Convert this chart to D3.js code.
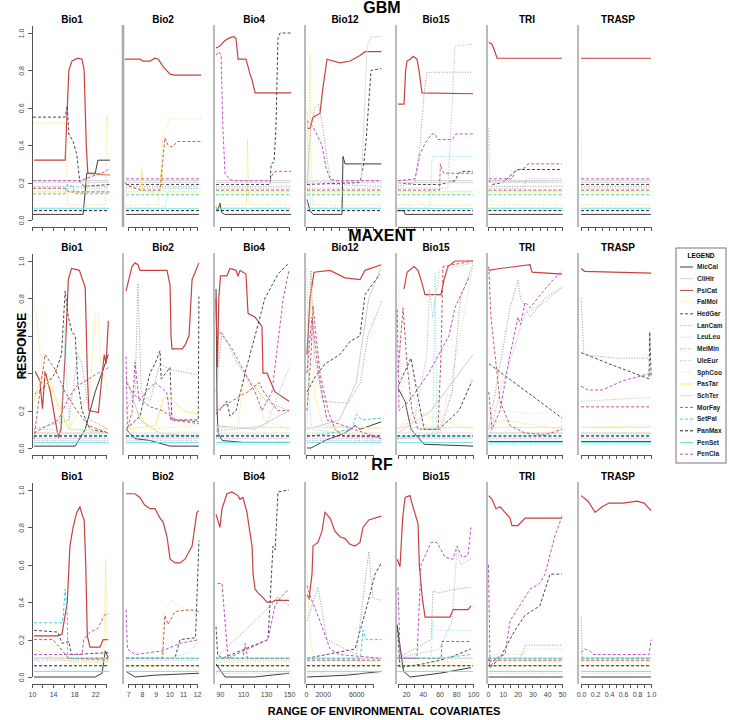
<!DOCTYPE html>
<meta charset="utf-8">
<style>

body {
  margin: 0;
  background: #fff;
}

text {
  font-family: "Liberation Sans", Arial, sans-serif;
}

.line {
  fill: none;
}

.axis path, .axis line {
  stroke: #555;
  shape-rendering: crispEdges;
}

.axis text {
  font-size: 7px;
  fill: #444;
}

</style>
<body>
<script src="https://cdn.jsdelivr.net/npm/d3@7"></script>
<script>

var species = ["MicCal", "CliHir", "PsiCat", "FalMol", "HedGar", "LanCam", "LeuLeu", "MelMin", "UleEur",
               "SphCoo", "PasTar", "SchTer", "MorFay", "SetPal", "PanMax", "PenSet", "PenCla"];
var speciesColor = ["#3c3c3c", "#cfcfcf", "#c8413f", "#f5de5a", "#4a4a4a", "#d98ee0", "#7ee8ec", "#9a9a9a", "#b4b4c4",
                    "#dcdcb4", "#fbec78", "#dedede", "#c25c5c", "#3fcfd2", "#1e1e1e", "#74e2e2", "#c050c4"];
var speciesDash = ["solid", "solid", "solid", "dotted", "dashed", "dotted", "dotted", "dotted", "dotted",
                   "dotted", "solid", "solid", "dashed", "dashed", "dashed", "solid", "dashed"];

var models = ["GBM", "MAXENT", "RF"];
var covariates = ["Bio1", "Bio2", "Bio4", "Bio12", "Bio15", "TRI", "TRASP"];
var covDomain = [[10.2, 24.8], [6.7, 12.3], [85.7, 152.6], [0, 9200], [9.2, 101.2], [0, 52], [-0.03, 1.07]];
var covExtent = [[10.4, 24.6], [6.85, 12.15], [86.6, 151], [120, 9000], [9.5, 100], [0.3, 50.5], [0, 1]];

var xTicks = [
  [10, 12, 14, 16, 18, 20, 22, 24],
  [7, 7.5, 8, 8.5, 9, 9.5, 10, 10.5, 11, 11.5, 12],
  [90, 100, 110, 120, 130, 140, 150],
  [0, 1000, 2000, 3000, 4000, 5000, 6000, 7000, 8000],
  [10, 20, 30, 40, 50, 60, 70, 80, 90, 100],
  [0, 5, 10, 15, 20, 25, 30, 35, 40, 45, 50],
  [0, 0.1, 0.2, 0.3, 0.4, 0.5, 0.6, 0.7, 0.8, 0.9, 1]
];
var xLabels = [
  [10, 14, 18, 22],
  [7, 8, 9, 10, 11, 12],
  [90, 110, 130, 150],
  [0, 2000, 6000],
  [20, 40, 60, 80, 100],
  [0, 10, 20, 30, 40, 50],
  [0, 0.2, 0.4, 0.6, 0.8, 1]
];
var yTicks = [0, 0.2, 0.4, 0.6, 0.8, 1];

// flat response of each species when the covariate has no effect
var gbmBase = [0.03, 0.21, 0.865, 0.08, 0.19, 0.2, 0.065, 0.18, 0.17, 0.155, 0.15, 0.2, 0.16, 0.135, 0.05, 0.06, 0.22];
var maxentBase = [0.035, 0.08, 0.94, 0.1, 0.065, 0.05, 0.02, 0.045, 0.04, 0.07, 0.11, 0.08, 0.055, 0.06, 0.065, 0.03, 0.025];
var rfBase = [0.0, 0.1, 0.9, 0.08, 0.1, 0.1, 0.02, 0.1, 0.09, 0.1, 0.06, 0.1, 0.09, 0.1, 0.06, 0.03, 0.13];

// GBM curves
var gbmBio1 = {
  MicCal: [[10.2,0.03],[19.7,0.03],[20.4,0.25],[22.0,0.25],[22.5,0.32],[24.8,0.32]],
  PsiCat: [[10.4,0.32],[16.3,0.32],[16.7,0.6],[17.0,0.8],[17.6,0.85],[18.7,0.865],[19.5,0.86],[19.9,0.8],[20.3,0.4],[20.6,0.25],[24.8,0.24]],
  FalMol: [[10.2,0.52],[16.3,0.52],[16.8,0.08],[23.9,0.08],[24.2,0.56],[24.5,0.5]],
  HedGar: [[10.2,0.55],[16.3,0.55],[16.7,0.61],[17.0,0.46],[17.8,0.42],[18.5,0.35],[19.1,0.2],[20.0,0.18],[24.8,0.19]],
  PasTar: [[10.2,0.15],[20.4,0.15],[21.0,0.24],[24.8,0.24]],
  MorFay: [[10.2,0.17],[16.3,0.17],[17.0,0.15],[24.8,0.15]],
  SetPal: [[10.2,0.14],[16.3,0.14],[16.7,0.19],[17.6,0.18],[18.2,0.14],[24.8,0.14]],
  PenCla: [[10.2,0.21],[19.1,0.21],[20.1,0.22],[24.0,0.26],[24.8,0.28]]
};
var gbmBio2 = {
  PsiCat: [[6.75,0.86],[7.86,0.86],[8.08,0.85],[8.59,0.85],[8.95,0.865],[9.2,0.86],[9.54,0.82],[10.05,0.78],[10.4,0.775],[12.3,0.775]],
  FalMol: [[6.75,0.08],[9.17,0.08],[9.32,0.2],[9.54,0.45],[10.05,0.54],[12.3,0.54]],
  LeuLeu: [[6.75,0.065],[9.68,0.065],[9.9,0.15],[10.05,0.17],[12.3,0.17]],
  PasTar: [[6.75,0.15],[7.9,0.15],[8.0,0.27],[8.1,0.15],[9.3,0.15],[9.45,0.27],[9.6,0.15],[12.3,0.15]],
  MorFay: [[6.75,0.2],[7.14,0.18],[7.86,0.16],[9.32,0.16],[9.68,0.44],[9.9,0.4],[10.19,0.39],[10.6,0.42],[12.3,0.42]]
};
var gbmBio4 = {
  MicCal: [[86.6,0.07],[88,0.05],[90,0.09],[91.5,0.04],[94,0.03],[152,0.03]],
  PsiCat: [[86.6,0.92],[90,0.93],[94.4,0.96],[98.7,0.975],[102.2,0.98],[104,0.97],[105.7,0.86],[112.6,0.86],[114.4,0.82],[116.1,0.78],[117.9,0.75],[120.5,0.68],[152,0.68]],
  FalMol: [[86.6,0.08],[113,0.08],[114,0.43],[115.2,0.08],[152,0.08]],
  HedGar: [[86.6,0.19],[133.5,0.19],[134.5,0.3],[137,0.31],[138.7,0.5],[140.4,0.97],[142.2,1.0],[152,1.0]],
  PenCla: [[86.6,0.88],[89,0.9],[91,0.88],[92.5,0.5],[94.4,0.25],[98.7,0.215],[103,0.21],[133.5,0.21],[136,0.25],[138.7,0.26],[152,0.26]]
};
var gbmBio12 = {
  MicCal: [[120,0.11],[480,0.05],[840,0.03],[4300,0.03],[4420,0.34],[4660,0.3],[9000,0.3]],
  PsiCat: [[120,0.49],[480,0.49],[840,0.55],[1670,0.57],[2000,0.7],[2510,0.86],[4060,0.84],[5260,0.85],[6450,0.88],[7050,0.9],[9000,0.9]],
  FalMol: [[120,0.08],[300,0.3],[480,0.89],[600,0.3],[840,0.08],[9000,0.08]],
  HedGar: [[120,0.19],[6450,0.2],[6900,0.3],[7170,0.42],[7770,0.8],[9000,0.81]],
  LeuLeu: [[120,0.59],[300,0.3],[600,0.065],[9000,0.065]],
  MelMin: [[120,0.2],[600,0.5],[1080,0.6],[1500,0.62],[2000,0.5],[2600,0.3],[3100,0.19],[9000,0.18]],
  SchTer: [[120,0.21],[6600,0.21],[6900,0.5],[7300,0.93],[7800,0.98],[9000,0.98]],
  PenCla: [[120,0.53],[840,0.5],[1910,0.4],[2390,0.28],[2870,0.22],[3500,0.21],[9000,0.21]]
};
var gbmBio15 = {
  MicCal: [[10.4,0.05],[17.6,0.05],[19,0.03],[100,0.03]],
  PsiCat: [[10.4,0.62],[17.6,0.62],[19.5,0.8],[21.2,0.85],[25,0.86],[28.3,0.875],[33.1,0.86],[35.5,0.8],[39.1,0.68],[100,0.675]],
  HedGar: [[10.4,0.2],[30,0.19],[60.6,0.19],[70,0.2],[78.5,0.21],[83,0.25],[86.9,0.26],[100,0.26]],
  LeuLeu: [[10.4,0.065],[48,0.065],[50,0.2],[51,0.34],[100,0.34]],
  MelMin: [[10.4,0.18],[30.7,0.2],[36.7,0.4],[42,0.7],[45.1,0.79],[100,0.79]],
  UleEur: [[10.4,0.17],[70,0.17],[73.7,0.5],[78.5,0.93],[100,0.94]],
  MorFay: [[10.4,0.16],[60,0.16],[61,0.3],[63,0.27],[65.4,0.25],[100,0.25]],
  PenCla: [[10.4,0.21],[30.7,0.22],[36.7,0.35],[42.7,0.41],[51,0.46],[54.6,0.46],[58,0.43],[74.9,0.43],[79.7,0.46],[100,0.46]]
};
var gbmTri = {
  PsiCat: [[0.5,0.95],[2.7,0.94],[4.7,0.9],[6.1,0.865],[50,0.865]],
  HedGar: [[0.5,0.21],[3,0.19],[10,0.2],[11.5,0.21],[18.2,0.26],[20,0.27],[50,0.27]],
  LanCam: [[0.4,0.49],[0.9,0.3],[1.5,0.21],[50,0.2]],
  UleEur: [[0.5,0.17],[24,0.17],[26,0.22],[50,0.22]],
  PenCla: [[0.5,0.22],[16.2,0.22],[18.2,0.26],[25,0.28],[27,0.3],[50,0.3]]
};
var gbmTrasp = {
  SphCoo: [[0,0.48],[0.015,0.16],[1,0.155]]
};

// MAXENT curves
var maxentBio1 = {
  MicCal: [[10.4,0.01],[18.2,0.01],[20.1,0.1],[22,0.3],[24.5,0.5]],
  PsiCat: [[10.6,0.41],[11.5,0.36],[12.0,0.21],[12.5,0.41],[13.5,0.3],[14.4,0.15],[15.0,0.06],[15.5,0.1],[16.3,0.5],[16.9,0.9],[17.5,0.96],[19.0,0.95],[19.6,0.9],[20.1,0.86],[20.5,0.4],[20.8,0.2],[22.6,0.19],[23.7,0.5],[24.05,0.45],[24.5,0.68]],
  FalMol: [[10.4,0.8],[11.2,0.6],[12,0.42],[13.4,0.38],[15,0.2],[17,0.1],[21,0.3],[22,0.72],[22.5,0.72],[23,0.45],[24.5,0.3]],
  HedGar: [[10.6,0.29],[12.5,0.33],[14.4,0.4],[15.6,0.5],[16.3,0.84],[16.9,0.7],[17.6,0.62],[18.2,0.6],[18.7,0.35],[19.5,0.2],[21,0.1],[24.5,0.08]],
  LeuLeu: [[10.4,0.1],[15.3,0.1],[15.9,0.3],[16.3,0.65],[16.7,0.3],[17.2,0.1],[24.5,0.08]],
  MelMin: [[10.4,0.1],[17,0.15],[18.7,0.5],[19.5,0.45],[21,0.15],[24.5,0.1]],
  PasTar: [[10.4,0.25],[12,0.4],[14,0.3],[17,0.1],[24.5,0.1]],
  MorFay: [[10.4,0.05],[11.5,0.3],[12.5,0.5],[14.4,0.42],[16.3,0.3],[18.5,0.2],[20.7,0.12],[22.6,0.1],[24.5,0.08]],
  PenCla: [[10.4,0.08],[15,0.15],[17,0.27],[18.5,0.33],[22.5,0.4],[24.5,0.43]]
};
var maxentBio2 = {
  MicCal: [[6.85,0.1],[7.5,0.05],[8.6,0.04],[10.05,0.01],[12.15,0.01]],
  CliHir: [[6.85,0.38],[7.86,0.15],[9.3,0.08],[12.15,0.06]],
  PsiCat: [[6.85,0.84],[7.28,0.97],[7.5,0.99],[7.72,0.98],[7.86,0.95],[9.83,0.95],[10.05,0.87],[10.12,0.6],[10.19,0.53],[10.92,0.53],[11.14,0.55],[11.43,0.6],[11.65,0.9],[12.15,0.99]],
  FalMol: [[6.85,0.15],[7.7,0.2],[8.5,0.1],[12.15,0.12]],
  HedGar: [[6.85,0.1],[7.86,0.17],[8.59,0.4],[8.95,0.45],[9.32,0.52],[9.4,0.37],[10.05,0.43],[10.19,0.15],[12.1,0.15],[12.15,0.81]],
  LeuLeu: [[6.85,0.06],[11.5,0.06],[12.15,0.1]],
  MelMin: [[6.85,0.2],[7.5,0.3],[7.72,0.88],[7.95,0.3],[8.6,0.25],[9.3,0.45],[10.05,0.42],[12.15,0.39]],
  PasTar: [[6.85,0.1],[9,0.12],[9.6,0.27],[10.2,0.26],[11,0.2],[12.15,0.18]],
  MorFay: [[6.85,0.35],[7.5,0.28],[8.6,0.22],[9.5,0.2],[10.5,0.15],[12.15,0.14]],
  PenCla: [[6.85,0.49],[6.95,0.1],[7.3,0.2],[7.5,0.46],[7.8,0.25],[8.3,0.3],[8.95,0.35],[9.8,0.3],[10.1,0.15],[12.15,0.13]]
};
var maxentBio4 = {
  MicCal: [[86.6,0.85],[87.5,0.2],[88.5,0.08],[92,0.04],[110,0.03],[150,0.03]],
  CliHir: [[86.6,0.12],[120,0.1],[150,0.2]],
  PsiCat: [[86.6,0.8],[87.8,0.43],[89,0.8],[90.5,0.92],[96,0.92],[98.7,0.96],[104,0.95],[105.7,0.92],[107.5,0.95],[112.6,0.93],[114.4,0.72],[120.5,0.7],[126.5,0.65],[127.4,0.4],[130.9,0.4],[137.8,0.3],[150,0.25]],
  FalMol: [[86.6,0.1],[105,0.1],[112,0.42],[116,0.3],[123,0.35],[128,0.15],[150,0.1]],
  HedGar: [[86.6,0.18],[96.1,0.25],[98.7,0.17],[104,0.2],[111.8,0.4],[120.5,0.6],[129,0.8],[140.4,0.93],[150,0.99]],
  MelMin: [[86.6,0.3],[91.8,0.62],[105,0.45],[130,0.25],[150,0.2]],
  UleEur: [[86.6,0.09],[130,0.12],[150,0.43]],
  MorFay: [[86.6,0.2],[100,0.25],[114,0.3],[124,0.35],[128,0.3],[140,0.2],[150,0.2]],
  PenCla: [[86.6,0.6],[90,0.62],[98.7,0.55],[111.8,0.4],[120.5,0.3],[126.5,0.2],[135.2,0.3],[145,0.8],[150,0.95]]
};
var maxentBio12 = {
  MicCal: [[120,0.0],[600,0.0],[2270,0.04],[4660,0.08],[5860,0.12],[6450,0.1],[9000,0.14]],
  CliHir: [[120,0.1],[4000,0.15],[6000,0.35],[7500,0.8],[9000,0.97]],
  PsiCat: [[120,0.5],[480,0.8],[960,0.94],[2870,0.95],[4660,0.91],[6450,0.9],[7050,0.95],[9000,0.98]],
  FalMol: [[120,0.1],[600,0.88],[1000,0.3],[2000,0.12],[9000,0.1]],
  HedGar: [[120,0.3],[1080,0.38],[2270,0.45],[4060,0.5],[5260,0.57],[6450,0.6],[7050,0.82],[8840,0.93]],
  LeuLeu: [[120,0.96],[300,0.3],[700,0.1],[9000,0.05]],
  MelMin: [[120,0.4],[600,0.95],[1000,0.5],[2000,0.25],[5000,0.24],[6500,0.35],[7400,0.6],[9000,0.78]],
  MorFay: [[120,0.2],[600,0.5],[840,0.76],[1200,0.6],[1670,0.4],[2630,0.2],[3460,0.1],[4500,0.06],[9000,0.06]],
  SetPal: [[120,0.06],[5500,0.1],[6000,0.18],[6700,0.15],[9000,0.16]],
  PenCla: [[120,0.4],[700,0.7],[1500,0.4],[2500,0.15],[9000,0.05]]
};
var maxentBio15 = {
  MicCal: [[10.4,0.32],[18.8,0.25],[26.0,0.1],[41.5,0.02],[100,0.01]],
  CliHir: [[10.4,0.08],[50,0.2],[100,0.5]],
  PsiCat: [[17.6,0.85],[21.2,0.94],[29.5,0.97],[34.3,0.95],[37.9,0.9],[42.7,0.82],[61.8,0.82],[65.4,0.9],[70.1,0.97],[78.5,1.0],[100,1.0]],
  FalMol: [[10.4,0.1],[30,0.2],[60,0.15],[100,0.1]],
  HedGar: [[11.6,0.34],[25.9,0.48],[33.1,0.3],[41.5,0.1],[59.4,0.1],[83.3,0.2],[99,0.36]],
  LeuLeu: [[10.4,0.06],[52,0.06],[54.6,0.94],[57,0.06],[100,0.06]],
  MelMin: [[10.4,0.05],[60,0.08],[75,0.3],[85,0.8],[100,0.98]],
  UleEur: [[10.4,0.1],[30,0.15],[45,0.5],[48,0.85],[52,0.7],[60,0.95],[100,0.99]],
  SphCoo: [[10.4,0.9],[15,0.3],[25,0.15],[60,0.1],[80,0.5],[100,0.97]],
  MorFay: [[10.4,0.4],[16.4,0.75],[21.2,0.45],[27.1,0.2],[34.3,0.1],[58.2,0.1],[61.8,0.5],[64.2,0.97],[100,1.0]],
  PenCla: [[9.5,0.74],[11.6,0.2],[23.6,0.25],[47,0.4],[71.3,0.6],[78.5,0.75],[96,0.92]]
};
var maxentTri = {
  PsiCat: [[0.5,0.95],[8.1,0.96],[28.4,0.98],[29.7,0.94],[50,0.93]],
  FalMol: [[0.5,0.12],[10,0.15],[50,0.1]],
  HedGar: [[0.7,0.45],[50,0.16]],
  MelMin: [[0.5,0.1],[5,0.3],[14.9,0.75],[20.3,0.9],[22,0.8],[28.4,0.7],[38.5,0.8],[50,0.86]],
  UleEur: [[0.5,0.05],[8.1,0.3],[20.3,0.6],[25,0.72],[38.5,0.78],[50,0.86]],
  SphCoo: [[0.5,0.2],[10,0.2],[30,0.18],[50,0.2]],
  MorFay: [[0.5,0.97],[2,0.7],[4.7,0.5],[8.1,0.25],[14.9,0.12],[25,0.08],[38.5,0.07],[50,0.1]],
  PenCla: [[0.5,0.3],[2.7,0.1],[8.1,0.2],[14.9,0.5],[20.3,0.7],[22,0.66],[25,0.78],[28.4,0.75],[38.5,0.85],[50,0.95]]
};
var maxentTrasp = {
  PsiCat: [[0,0.96],[0.05,0.945],[1,0.935]],
  FalMol: [[0,0.11],[1,0.12]],
  HedGar: [[0,0.51],[0.4,0.45],[0.97,0.37],[0.98,0.62],[1,0.38]],
  MelMin: [[0,0.8],[0.04,0.5],[0.5,0.48],[1,0.48]],
  UleEur: [[0,0.25],[1,0.27]],
  MorFay: [[0,0.22],[1,0.22]],
  PenCla: [[0,0.33],[0.1,0.31],[0.3,0.31],[0.6,0.36],[1,0.4]]
};

// RF curves
var rfBio1 = {
  MicCal: [[10.4,0.0],[22,0.0],[23.3,0.02],[23.9,0.14],[24.5,0.1]],
  PsiCat: [[10.4,0.22],[14.9,0.22],[15.7,0.23],[16.7,0.4],[17.2,0.7],[17.8,0.8],[18.5,0.88],[19.1,0.91],[19.6,0.86],[19.9,0.84],[20.2,0.6],[20.5,0.22],[21.0,0.16],[22.9,0.16],[23.5,0.2],[24.5,0.2]],
  FalMol: [[10.4,0.1],[23.6,0.1],[24.0,0.63],[24.2,0.2],[24.5,0.2]],
  HedGar: [[10.4,0.25],[14.9,0.24],[15.7,0.18],[17,0.19],[17.5,0.12],[24.5,0.13]],
  LeuLeu: [[10.4,0.1],[13,0.05],[15,0.03],[24.5,0.03]],
  PasTar: [[10.4,0.15],[14,0.1],[18,0.08],[24.5,0.08]],
  MorFay: [[10.4,0.2],[14,0.2],[15.5,0.15],[17,0.1],[24.5,0.1]],
  SetPal: [[10.4,0.29],[15.7,0.29],[15.9,0.32],[16.3,0.47],[16.7,0.35],[16.8,0.1],[24.5,0.09]],
  PenCla: [[10.4,0.12],[19.5,0.12],[19.8,0.2],[21,0.24],[22.5,0.26],[23.7,0.33],[24.5,0.34]]
};
var rfBio2 = {
  MicCal: [[6.85,0.03],[7.5,0.0],[9,0.01],[12.15,0.02]],
  PsiCat: [[6.85,0.98],[7.5,0.98],[7.86,0.96],[8.2,0.92],[8.59,0.9],[8.95,0.9],[9.32,0.85],[9.54,0.83],[9.83,0.75],[10.05,0.63],[10.41,0.61],[10.77,0.61],[11.14,0.63],[11.65,0.7],[12.0,0.88],[12.15,0.89]],
  FalMol: [[6.85,0.05],[9.4,0.06],[9.6,0.35],[10.19,0.41],[11.1,0.36],[12.15,0.34]],
  HedGar: [[6.85,0.1],[10.4,0.1],[10.77,0.2],[11.9,0.21],[12.15,0.73]],
  LeuLeu: [[6.85,0.1],[10,0.1],[11.5,0.13],[12.15,0.2]],
  MorFay: [[6.85,0.1],[9.5,0.1],[9.68,0.33],[9.9,0.28],[10.41,0.35],[11.5,0.36],[12.15,0.35]],
  PenCla: [[6.85,0.36],[6.95,0.15],[7.5,0.12],[9.5,0.14],[10.77,0.18],[12.15,0.2]]
};
var rfBio4 = {
  MicCal: [[86.6,0.07],[94.4,0.0],[120,0.0],[150,0.02]],
  PsiCat: [[86.6,0.87],[90,0.8],[91.8,0.9],[96.1,0.98],[100.4,0.99],[105.7,0.97],[107.4,0.95],[110,0.96],[113.5,0.88],[114.4,0.84],[117.9,0.7],[118.8,0.55],[120.5,0.47],[123.1,0.45],[126.5,0.43],[130.9,0.4],[135.2,0.4],[137.8,0.41],[150,0.41]],
  HedGar: [[86.6,0.27],[88,0.12],[92,0.1],[131.8,0.2],[136.1,0.7],[138,0.68],[140.4,0.99],[150,1.0]],
  MelMin: [[86.6,0.1],[137,0.4],[140,0.43],[150,0.38]],
  MorFay: [[86.6,0.1],[110,0.1],[112,0.18],[114,0.1],[150,0.1]],
  PenCla: [[88,0.5],[91.8,0.5],[97,0.1],[131.8,0.2],[137.8,0.38],[142,0.42],[150,0.47]]
};
var rfBio12 = {
  MicCal: [[120,0.0],[5000,0.01],[9000,0.03]],
  PsiCat: [[120,0.44],[360,0.42],[720,0.55],[840,0.7],[1430,0.72],[1910,0.78],[2270,0.88],[2870,0.85],[3460,0.78],[4060,0.75],[4660,0.74],[5260,0.71],[5860,0.7],[6450,0.72],[6810,0.8],[7500,0.84],[9000,0.86]],
  FalMol: [[120,0.57],[500,0.2],[1000,0.1],[9000,0.08]],
  HedGar: [[120,0.1],[5860,0.15],[7410,0.4],[8250,0.55],[9000,0.61]],
  MelMin: [[120,0.3],[1430,0.48],[2500,0.2],[6000,0.12],[7500,0.67],[8000,0.42],[9000,0.41]],
  SetPal: [[120,0.1],[6500,0.1],[6810,0.25],[7200,0.2],[9000,0.2]],
  PenCla: [[120,0.49],[600,0.42],[1670,0.3],[2870,0.15],[4000,0.12],[9000,0.1]]
};
var rfBio15 = {
  MicCal: [[9.5,0.27],[17,0.03],[25,0.0],[60,0.02],[97.6,0.05]],
  PsiCat: [[9.5,0.63],[12.8,0.59],[16,0.85],[18.8,0.96],[24.7,0.97],[27,0.93],[34.3,0.82],[36,0.59],[39.5,0.42],[42.7,0.32],[72.5,0.32],[76.1,0.36],[94,0.36],[97.6,0.38]],
  HedGar: [[9.5,0.28],[12.8,0.05],[40,0.07],[70,0.1],[97.6,0.15]],
  LeuLeu: [[9.5,0.1],[50,0.1],[52.2,0.3],[55,0.25],[97.6,0.25]],
  MelMin: [[9.5,0.1],[50,0.2],[52.2,0.46],[60,0.45],[80,0.47],[97.6,0.48]],
  UleEur: [[9.5,0.1],[60,0.15],[75,0.3],[80.9,0.68],[85,0.6],[97.6,0.63]],
  MorFay: [[9.5,0.1],[62,0.1],[63,0.19],[97.6,0.19]],
  SetPal: [[9.5,0.1],[60,0.1],[97.6,0.12]],
  PenCla: [[10.4,0.48],[13,0.1],[33,0.1],[37.9,0.6],[50,0.72],[57,0.72],[66.6,0.64],[76.1,0.63],[80.9,0.7],[86.9,0.64],[94,0.65],[97.6,0.8]]
};
var rfTri = {
  PsiCat: [[0.5,0.97],[2.7,0.95],[5.4,0.9],[8.1,0.91],[11.5,0.88],[14.9,0.85],[16.2,0.81],[20.3,0.81],[25,0.85],[50,0.85]],
  HedGar: [[0.5,0.1],[1.4,0.05],[8,0.1],[18.2,0.25],[25,0.33],[35,0.38],[41.9,0.55],[50,0.55]],
  MelMin: [[0.5,0.1],[22,0.1],[25,0.17],[50,0.17]],
  SphCoo: [[0.5,0.12],[24,0.12],[26,0.15],[50,0.15]],
  PenCla: [[0.3,0.6],[1.4,0.05],[5,0.1],[11.5,0.12],[14.9,0.3],[22.9,0.4],[28.4,0.47],[35,0.5],[38.5,0.55],[45,0.75],[50,0.86]]
};
var rfTrasp = {
  PsiCat: [[0,0.97],[0.1,0.94],[0.2,0.88],[0.3,0.91],[0.4,0.93],[0.6,0.93],[0.8,0.94],[0.9,0.93],[0.95,0.91],[1,0.89]],
  MelMin: [[0,0.32],[0.02,0.1],[1,0.1]],
  PenCla: [[0,0.13],[0.05,0.15],[0.12,0.14],[0.18,0.12],[0.97,0.12],[1,0.2]]
};

var modelBase = [gbmBase, maxentBase, rfBase];
var modelCurves = [
  [gbmBio1, gbmBio2, gbmBio4, gbmBio12, gbmBio15, gbmTri, gbmTrasp],
  [maxentBio1, maxentBio2, maxentBio4, maxentBio12, maxentBio15, maxentTri, maxentTrasp],
  [rfBio1, rfBio2, rfBio4, rfBio12, rfBio15, rfTri, rfTrasp]
];

var w = 729,
    h = 720,
    rowTop = [33, 261, 490],
    rowH = 187,
    panelStep = 91,
    dashes = {solid: null, dashed: "3,2", dotted: "1,1.6"};

var svg = d3.select("body").append("svg")
    .attr("width", w)
    .attr("height", h);

var line = d3.line();

models.forEach(function(model, r) {
  var y = d3.scaleLinear().domain([0, 1]).range([rowTop[r] + rowH, rowTop[r]]),
      y0 = y(0);

  svg.append("text")
      .attr("x", 382)
      .attr("y", rowTop[r] - 20)
      .attr("text-anchor", "middle")
      .style("font-size", "16px")
      .style("font-weight", "bold")
      .text(model);

  covariates.forEach(function(cov, c) {
    var left = 32 + c * panelStep,
        x = d3.scaleLinear().domain(covDomain[c]).range([left + 1, left + 78]),
        g = svg.append("g");

    g.append("text")
        .attr("x", left + 40)
        .attr("y", rowTop[r] - 10)
        .attr("text-anchor", "middle")
        .style("font-size", "10px")
        .style("font-weight", "bold")
        .text(cov);

    // curves
    species.forEach(function(sp, i) {
      var pts = modelCurves[r][c][sp] ||
          [[covExtent[c][0], modelBase[r][i]], [covExtent[c][1], modelBase[r][i]]];
      g.append("path")
          .attr("class", "line")
          .attr("d", line(pts.map(function(p) { return [x(p[0]), y(p[1])]; })))
          .attr("stroke", speciesColor[i])
          .attr("stroke-width", sp === "PsiCat" ? 1.2 : 1)
          .attr("stroke-dasharray", dashes[speciesDash[i]]);
    });

    // bottom axis
    var ticks = xTicks[c],
        labels = xLabels[c],
        ax = g.append("g")
          .attr("class", "axis")
          .attr("transform", "translate(0," + (y0 + 7) + ")")
          .call(d3.axisBottom(x)
            .tickValues(ticks)
            .tickSize(4)
            .tickSizeOuter(0)
            .tickFormat(function(d) {
              if (r < 2 || labels.indexOf(d) < 0) return "";
              return c === 6 ? d3.format(".1f")(d) : String(d);
            }));
    ax.select(".domain").attr("d", "M" + x(ticks[0]) + ",0H" + x(ticks[ticks.length - 1]));
    ax.selectAll("text").attr("dy", "0.9em");

    if (c === 0) {
      var ay = g.append("g")
          .attr("class", "axis")
          .attr("transform", "translate(" + left + ",0)")
          .call(d3.axisLeft(y).tickValues(yTicks).tickSize(4).tickFormat(d3.format(".1f")));
      ay.select(".domain").attr("d", "M0," + (rowTop[r] - 7) + "V" + y0);
      ay.selectAll("text")
          .attr("transform", "rotate(-90)")
          .attr("x", 0)
          .attr("y", -8)
          .attr("dy", 0)
          .style("text-anchor", "middle");
    } else {
      g.append("line")
          .attr("x1", left).attr("x2", left)
          .attr("y1", rowTop[r] - 8).attr("y2", y0 + 7)
          .attr("stroke", r === 0 && c === 1 ? "#aaa" : "#777")
          .attr("stroke-width", r === 0 && c === 1 ? 2.5 : 1);
    }
  });
});

svg.append("text")
    .attr("transform", "translate(26,346)rotate(-90)")
    .attr("text-anchor", "middle")
    .style("font-size", "12px")
    .style("font-weight", "bold")
    .text("RESPONSE");

svg.append("text")
    .attr("x", 384)
    .attr("y", 715)
    .attr("text-anchor", "middle")
    .style("font-size", "11px")
    .style("font-weight", "bold")
    .style("white-space", "pre")
    .text("RANGE OF ENVIRONMENTAL  COVARIATES");

// legend
var legend = svg.append("g").attr("transform", "translate(676,248)");

legend.append("rect")
    .attr("width", 50)
    .attr("height", 215)
    .attr("fill", "#fff")
    .attr("stroke", "#777");

legend.append("text")
    .attr("x", 25)
    .attr("y", 10)
    .attr("text-anchor", "middle")
    .style("font-size", "6.5px")
    .style("font-weight", "bold")
    .text("LEGEND");

var item = legend.selectAll(".item")
    .data(species)
  .enter().append("g")
    .attr("class", "item")
    .attr("transform", function(d, i) { return "translate(0," + (19 + i * 11.7) + ")"; });

item.append("line")
    .attr("x1", 4).attr("x2", 17)
    .attr("stroke", function(d, i) { return speciesColor[i]; })
    .attr("stroke-dasharray", function(d, i) { return dashes[speciesDash[i]]; });

item.append("text")
    .attr("x", 21)
    .attr("dy", "0.35em")
    .style("font-size", "6.5px")
    .style("font-weight", "bold")
    .style("fill", "#222")
    .text(function(d) { return d; });

</script>
</body>
